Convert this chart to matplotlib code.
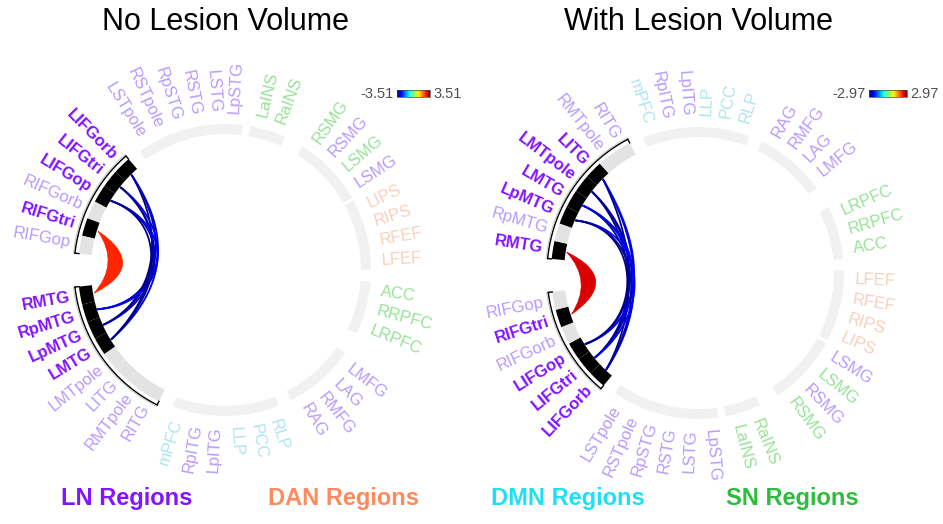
# connectogram: no lesion volume vs with lesion volume
import numpy as np
import matplotlib.pyplot as plt
from matplotlib.patches import Wedge, PathPatch, Rectangle
from matplotlib.path import Path
from matplotlib import cm, colors

# regions in ring order (counter-clockwise on the left circle)
regions = ["LFEF", "RFEF", "RIPS", "LIPS",
           "LSMG", "LSMG", "RSMG", "RSMG",
           "RaINS", "LaINS",
           "LpSTG", "LSTG", "RSTG", "RpSTG", "RSTpole", "LSTpole",
           "LIFGorb", "LIFGtri", "LIFGop", "RIFGorb", "RIFGtri", "RIFGop",
           "RMTG", "RpMTG", "LpMTG", "LMTG", "LMTpole", "LITG", "RMTpole", "RITG",
           "mPFC", "RpITG", "LpITG", "LLP", "PCC", "RLP",
           "RAG", "RMFG", "LAG", "LMFG",
           "LRPFC", "RRPFC", "ACC"]
networks = (["DAN"] * 4 + ["LN", "SN", "LN", "SN"] + ["SN"] * 2 + ["LN"] * 6
            + ["LN"] * 6 + ["LN"] * 8 + ["DMN", "LN", "LN", "DMN", "DMN", "DMN"]
            + ["LN"] * 4 + ["SN"] * 3)
segment_sizes = [4, 4, 2, 6, 6, 8, 6, 4, 3]

# significant links (region a, region b, t value)
links_no_lesion = [("RIFGtri", "RMTG", 2.6),
                   ("LIFGorb", "RpMTG", -3.2), ("LIFGorb", "LpMTG", -3.51), ("LIFGorb", "LMTG", -3.0),
                   ("LIFGtri", "RpMTG", -2.8), ("LIFGtri", "LpMTG", -3.4), ("LIFGtri", "LMTG", -3.3),
                   ("LIFGop", "RpMTG", -2.7), ("LIFGop", "LpMTG", -3.1), ("LIFGop", "LMTG", -3.45)]
links_with_lesion = [("RIFGtri", "RMTG", 2.5),
                     ("LITG", "LIFGorb", -2.6), ("LITG", "LIFGtri", -2.9), ("LITG", "LIFGop", -2.4),
                     ("LMTpole", "LIFGorb", -2.97), ("LMTpole", "LIFGtri", -2.7), ("LMTpole", "LIFGop", -2.8),
                     ("LMTG", "LIFGorb", -2.5), ("LMTG", "LIFGtri", -2.85), ("LMTG", "LIFGop", -2.3),
                     ("LpMTG", "LIFGorb", -2.75), ("LpMTG", "LIFGtri", -2.2), ("LpMTG", "LIFGop", -2.9)]
vmax_no, vmax_with = 3.51, 2.97

faded = {"LN": "#b89aff", "DAN": "#f8cfbb", "DMN": "#ade5ee", "SN": "#96e396"}
strong = {"LN": "#8214ff", "DAN": "#ff8a5c", "DMN": "#1ee0f5", "SN": "#2dbd3c"}

fig = plt.figure(figsize=(9.43, 5.24), dpi=100)
ax = fig.add_axes([0, 0, 1, 1])

u = 7.1
gaps = [1.2, 7.8, 3.0, 5.4, 12.9, 5.7, 5.4, 8.8, 4.5]
starts = []
a = 0.0
for n, g in zip(segment_sizes, gaps):
    starts.append(a)
    a += n * u + g
seg_of = []
pos_of = []
for k, n in enumerate(segment_sizes):
    for i in range(n):
        seg_of.append(k)
        pos_of.append(starts[k] + i * u)


def pt(cx, cy, r, th):
    return np.array([cx + r * np.cos(np.radians(th)), cy + r * np.sin(np.radians(th))])


def bez(p, t):
    t = t[:, None]
    return ((1 - t) ** 3 * p[0] + 3 * (1 - t) ** 2 * t * p[1]
            + 3 * (1 - t) * t ** 2 * p[2] + t ** 3 * p[3])


def draw_circle(cx, cy, sign, offset, links, vmax, title):
    ang = lambda t: sign * t + offset
    linked = set()
    for s, t, v in links:
        linked.add(s)
        linked.add(t)
    hot = set(seg_of[regions.index(n)] for n in linked)

    # ring segments
    for k, n in enumerate(segment_sizes):
        t1, t2 = sorted([ang(starts[k]), ang(starts[k] + n * u)])
        if k not in hot:
            ax.add_patch(Wedge((cx, cy), 146, t1, t2, width=10, color="#f1f1f1", lw=0))
            continue
        for i in range(n):
            idx = sum(segment_sizes[:k]) + i
            a1, a2 = sorted([ang(pos_of[idx]), ang(pos_of[idx] + u)])
            c = "black" if regions[idx] in linked else "#e3e3e3"
            ax.add_patch(Wedge((cx, cy), 147, a1, a2, width=13, color=c, lw=0))
        th = np.linspace(t1, t2, 100)
        xs, ys = pt(cx, cy, 151, th)
        ax.plot(xs, ys, color="black", lw=1.0)
        xs, ys = pt(cx, cy, 152.5, th)
        ax.plot(xs, ys, color="#bbbbbb", lw=0.6)
        for e in (t1, t2):
            xa, ya = pt(cx, cy, 151, e)
            xb, yb = pt(cx, cy, 147, e)
            ax.plot([xa, xb], [ya, yb], color="black", lw=1.0)

    # mean angle of negative-link ends in each ring segment (bundle anchors)
    ends = {}
    for s, t, v in links:
        if v < 0:
            for n in (s, t):
                i = regions.index(n)
                ends.setdefault(seg_of[i], []).append(ang(pos_of[i] + u / 2))
    anchor = {k: np.mean(vals) for k, vals in ends.items()}

    norm = colors.Normalize(-vmax, vmax)
    r_in = 133
    tt = np.linspace(0, 1, 120)
    neg = [l for l in links if l[2] < 0]
    jit = np.linspace(-4, 4, len(neg))
    order = np.argsort([l[2] for l in neg])[::-1]
    for s, t, v in links:
        i, j = regions.index(s), regions.index(t)
        ta = ang(pos_of[i] + u / 2)
        tb = ang(pos_of[j] + u / 2)
        p0 = pt(cx, cy, r_in, ta)
        p3 = pt(cx, cy, r_in, tb)
        col = cm.jet(norm(v))
        if v > 0:
            mid = (ta + tb) / 2
            c1 = pt(cx, cy, 76, mid)
            c2 = pt(cx, cy, 105, mid)
            path = Path([p0, c1, p3, c2, p0, p0],
                        [Path.MOVETO, Path.CURVE3, Path.CURVE3, Path.CURVE3, Path.CURVE3, Path.CLOSEPOLY])
            ax.add_patch(PathPatch(path, facecolor=col, edgecolor=col, lw=0.5))
        else:
            aa, ab = anchor[seg_of[i]], anchor[seg_of[j]]
            a0, a3 = pt(cx, cy, r_in, aa), pt(cx, cy, r_in, ab)
            base = bez([a0, pt(cx, cy, 67, aa), pt(cx, cy, 67, ab), a3], tt)
            f = ((1 - tt) ** 4)[:, None]
            g = (tt ** 4)[:, None]
            k = neg.index((s, t, v))
            rank = list(order).index(k)
            outward = (pt(cx, cy, 1, (aa + ab) / 2) - np.array([cx, cy]))
            bump = (np.sin(np.pi * tt) * jit[rank])[:, None] * outward
            curve = base + (p0 - a0) * f + (p3 - a3) * g + bump
            ax.plot(curve[:, 0], curve[:, 1], color=col, lw=1.3, solid_capstyle="round")

    # labels
    for idx, name in enumerate(regions):
        th = ang(pos_of[idx] + u / 2) % 360
        x, y = pt(cx, cy, 157, th)
        if 90 < th < 270:
            rot, ha = th - 180, "right"
        else:
            rot, ha = (th if th <= 90 else th - 360), "left"
        bold = name in linked
        col = strong[networks[idx]] if bold else faded[networks[idx]]
        ax.text(x, y, name, rotation=rot, rotation_mode="anchor", ha=ha, va="center",
                fontsize=12, color=col, fontweight="bold" if bold else "normal",
                family="Liberation Sans")

    ax.text(cx, 502, title, ha="center", va="center", fontsize=22, family="Liberation Sans")


draw_circle(225, 254, 1, 0, links_no_lesion, vmax_no, "No Lesion Volume")
draw_circle(698, 251, -1, 1, links_with_lesion, vmax_with, "With Lesion Volume")

# colour bars
grad = np.linspace(0, 1, 256)[None, :]
for x0, x1, vm in [(397, 430, vmax_no), (869, 907, vmax_with)]:
    ax.imshow(grad, cmap="jet", extent=(x0, x1, 427, 434), aspect="auto")
    ax.add_patch(Rectangle((x0, 427), x1 - x0, 7, fill=False, ec="#444444", lw=0.5))
    ax.text(x0 - 3, 430.5, f"-{vm:.2f}", ha="right", va="center", fontsize=10.5,
            color="#505050", family="Liberation Sans")
    ax.text(x1 + 3, 430.5, f"{vm:.2f}", ha="left", va="center", fontsize=10.5,
            color="#505050", family="Liberation Sans")

# network legend
for x, name in zip([127, 343, 568, 792], ["LN", "DAN", "DMN", "SN"]):
    ax.text(x, 26, name + " Regions", ha="center", va="center", fontsize=17,
            fontweight="bold", color=strong[name], family="Liberation Sans")

ax.set_xlim(0, 943)
ax.set_ylim(0, 524)
ax.axis("off")
plt.savefig("out.png", dpi=100)
